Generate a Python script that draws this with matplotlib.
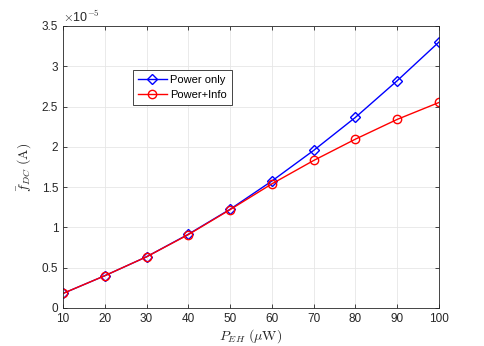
import numpy as np
import matplotlib
matplotlib.use("Agg")
import matplotlib.pyplot as plt

plt.rcParams['font.family'] = ['Liberation Sans', 'DejaVu Sans']
plt.rcParams['mathtext.fontset'] = 'cm'

p_eh = [10, 20, 30, 40, 50, 60, 70, 80, 90, 100]
power_only = [0.18, 0.40, 0.635, 0.915, 1.225, 1.575, 1.955, 2.365, 2.82, 3.30]
power_info = [0.18, 0.40, 0.635, 0.91, 1.22, 1.54, 1.83, 2.095, 2.34, 2.55]

fig = plt.figure(figsize=(4.85, 3.46), dpi=100)
ax = fig.add_axes([0.13, 0.11, 0.775, 0.815])

ax.plot(p_eh, np.array(power_only) * 1e-5, color='#0000ff', marker='D', markersize=5,
        markerfacecolor='none', markeredgewidth=1.0, linewidth=1.0, label='Power only')
ax.plot(p_eh, np.array(power_info) * 1e-5, color='#ff0000', marker='o', markersize=6,
        markerfacecolor='none', markeredgewidth=1.0, linewidth=1.0, label='Power+Info')

ax.set_xlim(10, 100)
ax.set_ylim(0, 3.5e-5)
ax.set_xticks(np.arange(10, 101, 10))
ax.set_yticks(np.arange(0, 3.51e-5, 0.5e-5))
ax.set_yticklabels(['0', '0.5', '1', '1.5', '2', '2.5', '3', '3.5'])
ax.text(0.0, 1.003, r'$\times$10$^{-5}$', transform=ax.transAxes, fontsize=9,
        color='#262626', ha='left', va='bottom')

ax.grid(True, color='#e6e6e6', linewidth=0.6)
ax.set_axisbelow(True)
for s in ax.spines.values():
    s.set_color('#262626')
    s.set_linewidth(0.6)
ax.tick_params(direction='in', length=3, width=0.6, colors='#262626', labelsize=8.5,
               top=True, right=True)

ax.set_xlabel(r'$P_{EH}\ (\mu\mathrm{W})$', fontsize=10, color='#262626', labelpad=2)
ax.set_ylabel(r'$\bar{f}_{DC}\ (\mathrm{A})$', fontsize=10, color='#262626', labelpad=6)

leg = ax.legend(loc='upper left', bbox_to_anchor=(0.186, 0.845), borderaxespad=0,
                fontsize=8, fancybox=False, edgecolor='#262626', framealpha=1,
                handlelength=2.6, borderpad=0.45, labelspacing=0.45, handletextpad=0.3)
leg.get_frame().set_linewidth(0.6)

fig.savefig('out.png', dpi=100)
